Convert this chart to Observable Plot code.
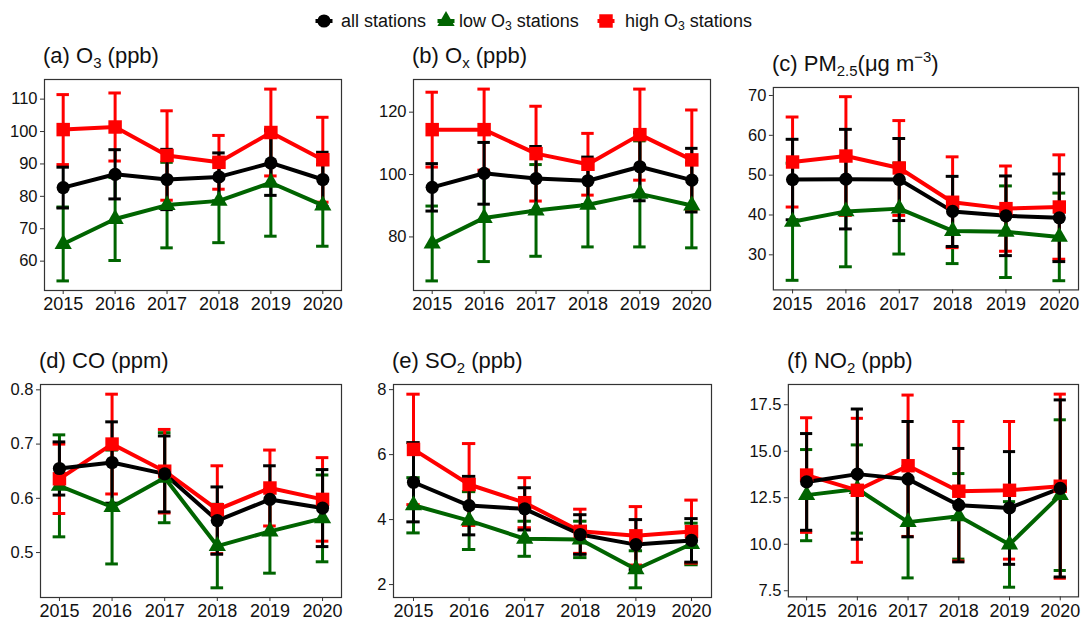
<!DOCTYPE html>
<html><head><meta charset="utf-8">
<script src="https://cdn.jsdelivr.net/npm/d3@7"></script>
<script src="https://cdn.jsdelivr.net/npm/@observablehq/plot@0.6"></script>
<style>
body{margin:0;background:#fff;font-family:"Liberation Sans",Arial,sans-serif;}
#root{position:relative;width:1086px;height:621px;overflow:hidden;background:#fff;}
.title{position:absolute;font-size:22px;line-height:22px;color:#111;white-space:nowrap;}
.sub{font-size:0.68em;position:relative;top:0.32em;}
.sup{font-size:0.68em;position:relative;top:-0.6em;}
.panel{position:absolute;}
.ltext{position:absolute;font-size:18px;line-height:18px;color:#111;white-space:nowrap;}
.lkey{position:absolute;}
</style></head><body><div id="root"></div>
<script>
const years = [2015, 2016, 2017, 2018, 2019, 2020];
const groups = ["all stations", "low O3 stations", "high O3 stations"];

// (a) O3 (ppb)
const o3_all_mean  = [82.7, 86.8, 85.2, 86.0, 90.3, 85.2];
const o3_all_sd    = [6.3, 7.6, 9.3, 7.4, 10.0, 8.4];
const o3_low_mean  = [65.3, 73.0, 77.3, 78.6, 84.2, 77.2];
const o3_low_sd    = [11.4, 12.8, 13.2, 12.9, 16.5, 12.6];
const o3_high_mean = [100.6, 101.4, 92.6, 90.5, 99.7, 91.3];
const o3_high_sd   = [10.8, 10.5, 13.8, 8.3, 13.4, 13.1];
// (b) Ox (ppb)
const ox_all_mean  = [95.9, 100.4, 98.7, 98.0, 102.5, 98.2];
const ox_all_sd    = [7.6, 9.9, 10.3, 7.6, 10.9, 10.2];
const ox_low_mean  = [77.9, 86.1, 88.5, 90.3, 93.8, 90.1];
const ox_low_sd    = [12.0, 14.0, 14.7, 13.5, 17.0, 13.6];
const ox_high_mean = [114.4, 114.4, 106.7, 103.3, 112.8, 104.7];
const ox_high_sd   = [12.0, 13.0, 15.2, 9.9, 14.6, 16.0];
// (c) PM2.5 (ug m-3)
const pm_all_mean  = [48.9, 49.0, 48.9, 40.9, 39.8, 39.3];
const pm_all_sd    = [10.1, 12.5, 10.3, 8.8, 10.0, 11.0];
const pm_low_mean  = [38.3, 40.9, 41.6, 36.0, 35.8, 34.5];
const pm_low_sd    = [14.7, 13.9, 11.4, 8.2, 11.5, 11.0];
const pm_high_mean = [53.3, 54.8, 51.8, 43.2, 41.6, 42.0];
const pm_high_sd   = [11.3, 14.9, 11.9, 11.4, 10.7, 13.1];
// (d) CO (ppm)
const co_all_mean  = [0.655, 0.666, 0.645, 0.559, 0.598, 0.582];
const co_all_sd    = [0.049, 0.075, 0.070, 0.062, 0.062, 0.071];
const co_low_mean  = [0.623, 0.584, 0.638, 0.512, 0.539, 0.563];
const co_low_sd    = [0.094, 0.105, 0.083, 0.077, 0.077, 0.080];
const co_high_mean = [0.636, 0.700, 0.650, 0.579, 0.619, 0.598];
const co_high_sd   = [0.064, 0.092, 0.077, 0.081, 0.070, 0.077];
// (e) SO2 (ppb)
const so2_all_mean  = [5.15, 4.43, 4.33, 3.54, 3.23, 3.36];
const so2_all_sd    = [1.22, 0.90, 0.65, 0.61, 0.77, 0.67];
const so2_low_mean  = [4.44, 3.97, 3.41, 3.39, 2.47, 3.25];
const so2_low_sd    = [0.85, 0.89, 0.54, 0.56, 0.57, 0.64];
const so2_high_mean = [6.16, 5.08, 4.52, 3.64, 3.50, 3.63];
const so2_high_sd   = [1.70, 1.26, 0.77, 0.68, 0.90, 0.97];
// (f) NO2 (ppb)
const no2_all_mean  = [13.35, 13.77, 13.5, 12.1, 11.95, 13.0];
const no2_all_sd    = [2.6, 3.5, 3.1, 3.05, 3.03, 4.76];
const no2_low_mean  = [12.64, 12.97, 11.19, 11.5, 9.99, 12.64];
const no2_low_sd    = [2.45, 2.37, 3.0, 2.3, 2.3, 4.05];
const no2_high_mean = [13.72, 12.9, 14.22, 12.85, 12.9, 13.12];
const no2_high_sd   = [3.08, 3.87, 3.8, 3.75, 3.7, 4.95];

// y-axis tick labels
const o3_ticks  = [60, 70, 80, 90, 100, 110];
const ox_ticks  = [80, 100, 120];
const pm_ticks  = [30, 40, 50, 60, 70];
const co_ticks  = [0.5, 0.6, 0.7, 0.8];
const so2_ticks = [2, 4, 6, 8];
const no2_ticks = [7.5, 10.0, 12.5, 15.0, 17.5];

const style = {
  "all stations":     {color: "#000000", symbol: "circle",   r: 6.6},
  "low O3 stations":  {color: "#006400", symbol: "triangle", r: 6.4},
  "high O3 stations": {color: "#ff0000", symbol: "square",   r: 7.6}
};
const drawOrder = ["low O3 stations", "high O3 stations", "all stations"];

const panels = [
  {title: '(a) O<span class="sub">3</span> (ppb)', left: 44, top: 79, w: 297, h: 211, ticks: o3_ticks, fmt: "d",
   series: [[o3_all_mean, o3_all_sd], [o3_low_mean, o3_low_sd], [o3_high_mean, o3_high_sd]]},
  {title: '(b) O<span class="sub">x</span> (ppb)', left: 413, top: 79, w: 297, h: 211, ticks: ox_ticks, fmt: "d",
   series: [[ox_all_mean, ox_all_sd], [ox_low_mean, ox_low_sd], [ox_high_mean, ox_high_sd]]},
  {title: '(c) PM<span class="sub">2.5</span>(\u03bcg m<span class="sup">\u22123</span>)', left: 773, top: 87, w: 306, h: 203, ticks: pm_ticks, fmt: "d",
   series: [[pm_all_mean, pm_all_sd], [pm_low_mean, pm_low_sd], [pm_high_mean, pm_high_sd]]},
  {title: '(d) CO (ppm)', left: 40, top: 384, w: 301, h: 213, ticks: co_ticks, fmt: ".1f",
   series: [[co_all_mean, co_all_sd], [co_low_mean, co_low_sd], [co_high_mean, co_high_sd]]},
  {title: '(e) SO<span class="sub">2</span> (ppb)', left: 393, top: 384, w: 318, h: 213, ticks: so2_ticks, fmt: "d",
   series: [[so2_all_mean, so2_all_sd], [so2_low_mean, so2_low_sd], [so2_high_mean, so2_high_sd]]},
  {title: '(f) NO<span class="sub">2</span> (ppb)', left: 788, top: 384, w: 291, h: 213, ticks: no2_ticks, fmt: ".1f",
   series: [[no2_all_mean, no2_all_sd], [no2_low_mean, no2_low_sd], [no2_high_mean, no2_high_sd]]}
];

const root = document.getElementById("root");
const mL = 50, mR = 8, mT = 6, mB = 34;

for (const p of panels) {
  const data = [];
  p.series.forEach(([mean, sd], gi) => {
    years.forEach((year, i) => data.push({year, group: groups[gi], mean: mean[i], sd: sd[i]}));
  });
  const lo = d3.min(data, d => d.mean - d.sd);
  const hi = d3.max(data, d => d.mean + d.sd);
  const pad = (hi - lo) * 0.05;
  const marks = [];
  for (const g of drawOrder) {
    const rows = data.filter(d => d.group === g);
    const c = style[g].color;
    marks.push(Plot.ruleX(rows, {x: "year", y1: d => d.mean - d.sd, y2: d => d.mean + d.sd, stroke: c, strokeWidth: 3}));
    marks.push(Plot.ruleY(rows, {y: d => d.mean + d.sd, x1: d => d.year - 0.12, x2: d => d.year + 0.12, stroke: c, strokeWidth: 3}));
    marks.push(Plot.ruleY(rows, {y: d => d.mean - d.sd, x1: d => d.year - 0.12, x2: d => d.year + 0.12, stroke: c, strokeWidth: 3}));
  }
  for (const g of drawOrder) {
    const rows = data.filter(d => d.group === g);
    marks.push(Plot.line(rows, {x: "year", y: "mean", stroke: style[g].color, strokeWidth: 4}));
  }
  for (const g of drawOrder) {
    const rows = data.filter(d => d.group === g);
    marks.push(Plot.dot(rows, {x: "year", y: "mean", symbol: style[g].symbol, r: style[g].r, fill: style[g].color, stroke: "none"}));
  }
  marks.push(Plot.frame({stroke: "#333", strokeWidth: 1.2}));
  marks.push(Plot.axisX({ticks: years, tickFormat: "d", tickSize: 4, tickPadding: 3, label: null, stroke: "#333"}));
  marks.push(Plot.axisY({ticks: p.ticks, tickFormat: p.fmt, tickSize: 4, tickPadding: 3, label: null, stroke: "#333"}));

  const chart = Plot.plot({
    width: p.w + mL + mR,
    height: p.h + mT + mB,
    marginLeft: mL, marginRight: mR, marginTop: mT, marginBottom: mB,
    x: {domain: [2014.64, 2020.36]},
    y: {domain: [lo - pad, hi + pad]},
    style: {fontFamily: '"Liberation Sans", Arial, sans-serif', fontSize: "16.5px", color: "#111", background: "transparent", overflow: "visible"},
    marks
  });
  // x tick labels (years) are drawn a little larger than the y tick labels
  const svgRoot = chart.tagName.toLowerCase() === "svg" ? chart : chart.querySelector("svg");
  svgRoot.querySelectorAll("text").forEach(t => {
    let el = t, anchor = null;
    while (el && el !== svgRoot && !anchor) { anchor = el.getAttribute && el.getAttribute("text-anchor"); el = el.parentNode; }
    const isX = /^20\d\d$/.test(t.textContent.trim()) && anchor !== "end";
    t.style.setProperty("font-size", isX ? "18px" : "16.5px", "important");
  });
  const div = document.createElement("div");
  div.className = "panel";
  div.style.left = (p.left - mL) + "px";
  div.style.top = (p.top - mT) + "px";
  div.appendChild(chart);
  root.appendChild(div);

  const t = document.createElement("div");
  t.className = "title";
  t.innerHTML = p.title;
  t.style.left = (p.left - 1) + "px";
  t.style.top = (p.top - 34) + "px";
  root.appendChild(t);
}

// legend
const legendItems = [
  {g: "all stations", cx: 324, tx: 341, label: "all stations"},
  {g: "low O3 stations", cx: 445.5, tx: 459, label: 'low O<span class="sub">3</span> stations'},
  {g: "high O3 stations", cx: 606, tx: 625, label: 'high O<span class="sub">3</span> stations'}
];
const ns = "http://www.w3.org/2000/svg";
for (const it of legendItems) {
  const s = style[it.g];
  const svg = document.createElementNS(ns, "svg");
  svg.setAttribute("width", 24); svg.setAttribute("height", 24);
  svg.setAttribute("class", "lkey");
  svg.style.left = (it.cx - 12) + "px"; svg.style.top = (21 - 12) + "px";
  const line = document.createElementNS(ns, "line");
  line.setAttribute("x1", 3.5); line.setAttribute("x2", 20.5); line.setAttribute("y1", 12); line.setAttribute("y2", 12);
  line.setAttribute("stroke", s.color); line.setAttribute("stroke-width", 4);
  svg.appendChild(line);
  const path = document.createElementNS(ns, "path");
  const sym = {circle: d3.symbolCircle, triangle: d3.symbolTriangle, square: d3.symbolSquare}[s.symbol];
  path.setAttribute("d", d3.symbol(sym, Math.PI * s.r * s.r)());
  path.setAttribute("transform", "translate(12,12)");
  path.setAttribute("fill", s.color);
  svg.appendChild(path);
  root.appendChild(svg);
  const t = document.createElement("div");
  t.className = "ltext";
  t.innerHTML = it.label;
  t.style.left = it.tx + "px";
  t.style.top = "11.5px";
  root.appendChild(t);
}
</script>
</body></html>
